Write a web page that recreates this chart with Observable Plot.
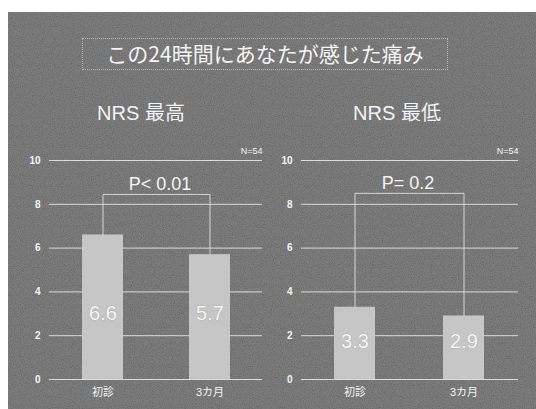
<!DOCTYPE html>
<html>
<head>
<meta charset="utf-8">
<script src="https://cdn.jsdelivr.net/npm/d3@7"></script>
<script src="https://cdn.jsdelivr.net/npm/@observablehq/plot@0.6"></script>
<style>
  html, body { margin: 0; padding: 0; background: #fff; }
  #wrap { position: relative; width: 536px; height: 409px; overflow: hidden;
          font-family: "Liberation Sans", Arial, "Noto Sans CJK JP", sans-serif; }
  #bg { position: absolute; left: 8px; top: 12px; width: 528px; height: 397px; background: #7b7b7b; }
  #noise { position: absolute; left: 8px; top: 12px; }
  #titlebox { position: absolute; left: 82px; top: 38px; width: 364px; height: 30px;
              border: 1px dotted #b8b8b8; }
  #title { position: absolute; left: 82px; top: 38px; width: 366px; height: 32px; line-height: 31px;
           text-align: center; color: #f4f4f4; font-size: 21px;
           font-family: "Noto Sans CJK JP", sans-serif; }
  .sub { position: absolute; top: 97px; color: #f4f4f4; font-size: 20px; width: 160px; text-align: center;
         font-family: "Liberation Sans", Arial, "Noto Sans CJK JP", sans-serif; }
  .panel { position: absolute; top: 140px; }
</style>
</head>
<body>
<div id="wrap">
  <div id="bg"></div>
  <svg id="noise" width="528" height="397">
    <filter id="grain">
      <feTurbulence type="fractalNoise" baseFrequency="0.9" numOctaves="1" seed="3"/>
      <feColorMatrix type="matrix" values="0 0 0 0 0  0 0 0 0 0  0 0 0 0 0  0 0 0 -1.4 0.75"/>
    </filter>
    <rect width="528" height="397" filter="url(#grain)" opacity="0.35"/>
  </svg>
  <div id="titlebox"></div>
  <div id="title">この24時間にあなたが感じた痛み</div>
  <div class="sub" id="sub1" style="left:61px">NRS 最高</div>
  <div class="sub" id="sub2" style="left:317px">NRS 最低</div>
  <div class="panel" id="p1" style="left:0px"></div>
  <div class="panel" id="p2" style="left:268px"></div>
</div>
<script>
const categories = ["初診", "3カ月"];
const maxValues = [6.6, 5.7];
const minValues = [3.3, 2.9];
const yTicks = [0, 2, 4, 6, 8, 10];
const pMax = "P< 0.01";
const pMin = "P= 0.2";
const bracketMax = 8.45;
const bracketMin = 8.5;
const nLabel = "N=54";

function panel(values, pLabel, bracketTop, opts) {
  const data = categories.map((c, i) => ({cat: c, v: values[i]}));
  const bracket = [
    {cat: categories[0], v: values[0]},
    {cat: categories[0], v: bracketTop},
    {cat: categories[1], v: bracketTop},
    {cat: categories[1], v: values[1]}
  ];
  return Plot.plot({
    width: 268,
    height: 269,
    marginLeft: opts.ml,
    marginRight: opts.mr,
    marginTop: 20,
    marginBottom: 30,
    style: {background: "transparent", color: "#f4f4f4",
            fontFamily: '"Liberation Sans", Arial, "Noto Sans CJK JP", sans-serif'},
    x: {domain: categories, paddingInner: 0.62, paddingOuter: 0.3, label: null},
    y: {domain: [0, 10], label: null},
    marks: [
      Plot.ruleY(yTicks, {stroke: "#e6e6e6", strokeWidth: 1, strokeOpacity: 0.9}),
      Plot.barY(data, {x: "cat", y: "v", fill: "#c6c6c6"}),
      Plot.line(bracket, {x: "cat", y: "v", stroke: "#d6d6d6", strokeWidth: 1}),
      Plot.text(data, {x: "cat", y: opts.labelY, text: d => d.v.toFixed(1),
                       fill: "#f6f6f6", fontSize: 20, stroke: "#a0a0a0", strokeWidth: 0.6}),
      Plot.text([pLabel], {frameAnchor: "middle", y: bracketTop + 0.45, dx: opts.pdx,
                           fill: "#f4f4f4", fontSize: 18}),
      Plot.text([nLabel], {frameAnchor: "top-right", dy: -13, fill: "#f4f4f4", fontSize: 9}),
      Plot.axisY({ticks: yTicks, tickSize: 0, tickPadding: 9, fontSize: 10, fontWeight: "bold",
                  fill: "#f4f4f4", label: null}),
      Plot.axisX({tickSize: 0, tickPadding: 9, fontSize: 11, fill: "#f4f4f4", label: null})
    ]
  });
}

document.getElementById("p1").appendChild(panel(maxValues, pMax, bracketMax, {ml: 49, mr: 6, pdx: 4, labelY: () => 3.0}));
document.getElementById("p2").appendChild(panel(minValues, pMin, bracketMin, {ml: 33, mr: 18, pdx: -2, labelY: () => 1.75}));
</script>
</body>
</html>
